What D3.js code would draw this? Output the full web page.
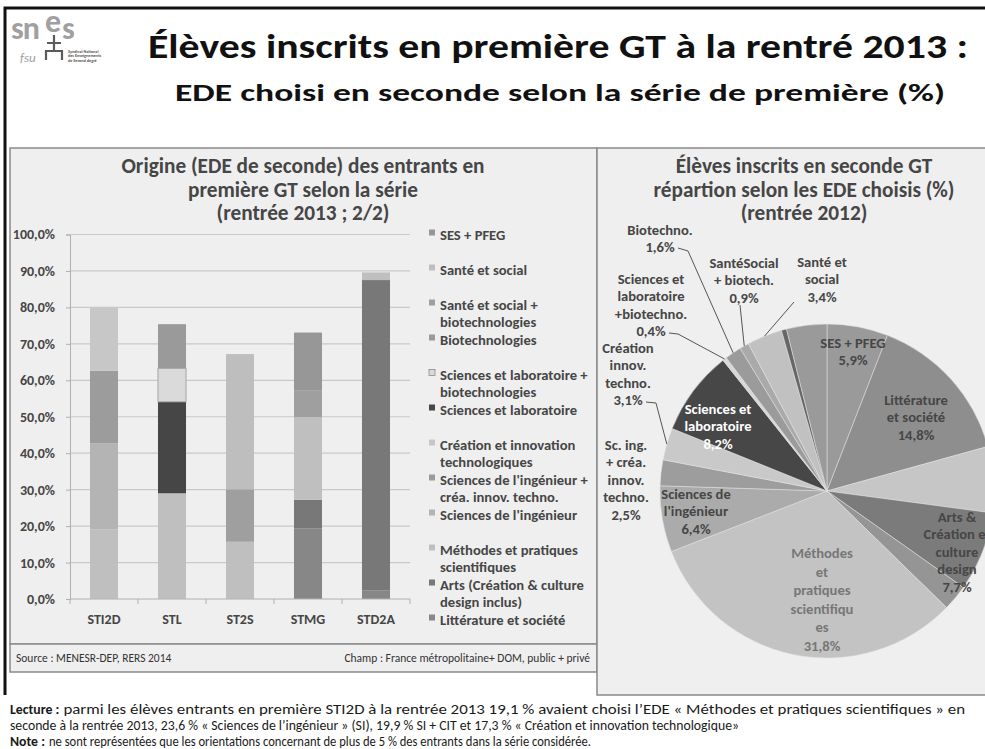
<!DOCTYPE html>
<html>
<head>
<meta charset="utf-8">
<script src="https://cdn.jsdelivr.net/npm/d3@7"></script>
<style>
  body { margin: 0; background: #fff; }
  svg text { font-family: Carlito, Lato, "Open Sans", sans-serif; }
</style>
</head>
<body>
<svg id="chart" width="985" height="749"></svg>
<script>
;(function (d3) {
  'use strict';

  // --- barres : origine des entrants en première GT (rentrée 2013)
  var categories = ["STI2D", "STL", "ST2S", "STMG", "STD2A"];
  var seriesNames = [
    "Littérature et société",
    "Arts (Création & culture design inclus)",
    "Méthodes et pratiques scientifiques",
    "Sciences de l'ingénieur",
    "Sciences de l'ingénieur + créa. innov. techno.",
    "Création et innovation technologiques",
    "Sciences et laboratoire",
    "Sciences et laboratoire + biotechnologies",
    "Biotechnologies",
    "Santé et social + biotechnologies",
    "Santé et social",
    "SES + PFEG"
  ];
  var litterature = [0, 0, 0, 19.4, 2.3];
  var arts        = [0, 0, 0, 7.8, 85.2];
  var methodes    = [19.1, 29.0, 15.7, 22.7, 2.1];
  var sciIng      = [23.6, 0, 0, 0, 0];
  var sciIngCit   = [19.9, 0, 0, 0, 0];
  var creaInnov   = [17.3, 0, 0, 0, 0];
  var sciLabo     = [0, 25.1, 0, 0, 0];
  var sciLaboBio  = [0, 9.2, 0, 0, 0];
  var biotechno   = [0, 12.1, 0, 0, 0];
  var santeBio    = [0, 0, 14.4, 7.4, 0];
  var santeSocial = [0, 0, 37.1, 0, 0];
  var sesPfeg     = [0, 0, 0, 15.8, 0];
  var seriesValues = [litterature, arts, methodes, sciIng, sciIngCit, creaInnov,
    sciLabo, sciLaboBio, biotechno, santeBio, santeSocial, sesPfeg];
  var legendLines = [
    ["Littérature et société"],
    ["Arts (Création & culture", "design inclus)"],
    ["Méthodes et pratiques", "scientifiques"],
    ["Sciences de l'ingénieur"],
    ["Sciences de l'ingénieur +", "créa. innov. techno."],
    ["Création et innovation", "technologiques"],
    ["Sciences et laboratoire"],
    ["Sciences et laboratoire +", "biotechnologies"],
    ["Biotechnologies"],
    ["Santé et social +", "biotechnologies"],
    ["Santé et social"],
    ["SES + PFEG"]
  ];
  var yTicks = [0, 10, 20, 30, 40, 50, 60, 70, 80, 90, 100];

  // --- camembert : élèves de seconde GT selon les EDE (rentrée 2012)
  var pieNames = ["SES + PFEG", "Littérature et société", "autre 1",
    "Arts & Création et culture design", "autre 2", "Méthodes et pratiques scientifiques",
    "Sciences de l'ingénieur", "Sc. ing. + créa. innov. techno.", "Création innov. techno.",
    "Sciences et laboratoire", "Sciences et laboratoire +biotechno.", "Biotechno.",
    "SantéSocial + biotech.", "Santé et social", "autre 3", "autre 4"];
  var pieValues = [5.9, 14.8, 6.4, 7.7, 2.5, 31.8, 6.4, 2.5, 3.1, 8.2, 0.4, 1.6, 0.9, 3.4, 0.5, 3.9];
  var pieLabelLines = [
    ["SES + PFEG"],
    ["Littérature", "et société"],
    null,
    ["Arts &", "Création et", "culture", "design"],
    null,
    ["Méthodes", "et", "pratiques", "scientifiqu", "es"],
    ["Sciences de", "l'ingénieur"],
    ["Sc. ing.", "+ créa.", "innov.", "techno."],
    ["Création", "innov.", "techno."],
    ["Sciences et", "laboratoire"],
    ["Sciences et", "laboratoire", "+biotechno."],
    ["Biotechno."],
    ["SantéSocial", "+ biotech."],
    ["Santé et", "social"],
    null,
    null
  ];

  // --- styles
  var seriesColors = ["#878787", "#787878", "#bfbfbf", "#b4b4b4", "#9c9c9c", "#c7c7c7",
    "#464646", "#dadada", "#9a9a9a", "#9f9f9f", "#bebebe", "#979797"];
  var pieColors = ["#9a9a9a", "#8e8e8e", "#c6c6c6", "#7b7b7b", "#959595", "#c3c3c3",
    "#ababab", "#9d9d9d", "#c9c9c9", "#474747", "#d8d8d8", "#9b9b9b",
    "#aaaaaa", "#c1c1c1", "#666666", "#9a9a9a"];
  var textDark = "#464646";
  var panelFill = "#efefef", panelStroke = "#8a8a8a";

  // positions des étiquettes du camembert (centre de la 1re ligne)
  var pieLabelPos = [
    {x: 853, y: 343},
    {x: 916, y: 400},
    null,
    {x: 957, y: 517},
    null,
    {x: 822, y: 553, lh: 18.6, fill: "#777"},
    {x: 696, y: 494},
    {x: 626, y: 445},
    {x: 628, y: 348, leader: [[646, 402], [656, 403]]},
    {x: 718, y: 409, fill: "#fff"},
    {x: 651, y: 279, leader: [[669, 333], [678, 334]]},
    {x: 660, y: 230, leader: [[678, 248], [688, 251]]},
    {x: 744, y: 263, leader: [[740, 305]]},
    {x: 822, y: 262, leader: [[794, 302]]},
    null,
    null
  ];

  var svg = d3.select("#chart");
  svg.append("rect").attr("width", 985).attr("height", 749).attr("fill", "#fff");

  function fmt(v) { return d3.format(".1f")(v).replace(".", ",") + "%"; }

  function fitWidth(sel, w) {
    sel.attr("textLength", w).attr("lengthAdjust", "spacingAndGlyphs");
  }

  // ---- cadre et panneaux
  svg.append("rect").attr("x", 10).attr("y", 148).attr("width", 587).attr("height", 496)
    .attr("fill", panelFill).attr("stroke", panelStroke).attr("stroke-width", 1.5);
  svg.append("rect").attr("x", 10).attr("y", 644).attr("width", 587).attr("height", 28)
    .attr("fill", panelFill).attr("stroke", panelStroke).attr("stroke-width", 1.5);
  svg.append("rect").attr("x", 597).attr("y", 148).attr("width", 400).attr("height", 547)
    .attr("fill", panelFill).attr("stroke", panelStroke).attr("stroke-width", 1.5);
  svg.append("path").attr("d", "M5,695V8H990")
    .attr("fill", "none").attr("stroke", "#111").attr("stroke-width", 3);

  // ---- logo
  var logo = svg.append("g").attr("class", "logo").attr("fill", "#a0a0a0")
    .attr("font-weight", 700);
  logo.append("text").attr("x", 11).attr("y", 39).attr("font-size", 32)
    .attr("letter-spacing", -1).text("sn");
  logo.append("text").attr("x", 45).attr("y", 32).attr("font-size", 32).text("e");
  logo.append("text").attr("x", 62).attr("y", 39).attr("font-size", 32).text("s");
  logo.append("text").attr("x", 20).attr("y", 62).attr("font-size", 13)
    .attr("font-weight", 400).attr("font-style", "italic").text("fsu");
  logo.append("path").attr("d", "M54,35V50M47,43H61M46,60V51H62V60")
    .attr("fill", "none").attr("stroke", "#5a5a5a").attr("stroke-width", 2.2);
  ["Syndicat National", "des Enseignements", "de Second degré"].forEach(function (t, i) {
    logo.append("text").attr("x", 68).attr("y", 53 + i * 4.4).attr("font-size", 4.2)
      .attr("fill", "#555").text(t);
  });

  // ---- titres
  svg.append("text").attr("x", 558).attr("y", 46).attr("text-anchor", "middle")
    .attr("dominant-baseline", "central").attr("font-size", 34).attr("font-weight", 700)
    .attr("fill", "#111").text("Élèves inscrits en première GT à la rentré 2013 :")
    .call(fitWidth, 820);
  svg.append("text").attr("x", 560).attr("y", 92).attr("text-anchor", "middle")
    .attr("dominant-baseline", "central").attr("font-size", 25).attr("font-weight", 700)
    .attr("fill", "#111").text("EDE choisi en seconde selon la série de première (%)")
    .call(fitWidth, 770);

  // ---- graphique en barres
  var bar = svg.append("g").attr("class", "bars");

  ["Origine (EDE de seconde) des entrants en", "première GT selon la série",
    "(rentrée 2013 ; 2/2)"].forEach(function (t, i) {
    bar.append("text").attr("x", 303).attr("y", 166 + i * 23.5).attr("text-anchor", "middle")
      .attr("dominant-baseline", "central").attr("font-size", 21.3).attr("font-weight", 700)
      .attr("fill", textDark).text(t);
  });

  var x = d3.scaleBand().domain(categories).range([70, 410])
    .paddingInner(0.588).paddingOuter(0.294);
  var y = d3.scaleLinear().domain([0, 100]).range([599, 234.5]);

  bar.append("g").selectAll("line").data(yTicks.slice(1)).enter().append("line")
    .attr("x1", 70).attr("x2", 410)
    .attr("y1", function (d) { return y(d); }).attr("y2", function (d) { return y(d); })
    .attr("stroke", "#c9c9c9").attr("stroke-width", 1.2);

  var yAxis = bar.append("g").attr("transform", "translate(70,0)")
    .call(d3.axisLeft(y).tickValues(yTicks).tickFormat(fmt).tickSize(4).tickPadding(11));
  yAxis.select(".domain").attr("stroke", "#b0b0b0");
  yAxis.selectAll(".tick line").attr("stroke", "#b0b0b0");
  yAxis.selectAll("text").attr("font-size", 14).attr("font-weight", 700)
    .attr("fill", textDark).attr("font-family", null);

  var rows = categories.map(function (c, i) {
    var r = {cat: c};
    seriesNames.forEach(function (s, k) { r[s] = seriesValues[k][i]; });
    return r;
  });
  var stacked = d3.stack().keys(seriesNames)(rows);

  bar.append("g").selectAll("g").data(stacked).enter().append("g")
    .attr("fill", function (d, i) { return seriesColors[i]; })
    .attr("stroke", function (d) { return d.key === "Sciences et laboratoire + biotechnologies" ? "#a5a5a5" : "none"; })
    .selectAll("rect")
    .data(function (d) { return d.filter(function (p) { return p[1] - p[0] > 0; }); })
    .enter().append("rect")
    .attr("x", function (d) { return x(d.data.cat); })
    .attr("width", x.bandwidth())
    .attr("y", function (d) { return y(d[1]); })
    .attr("height", function (d) { return y(d[0]) - y(d[1]); });

  // axe des catégories, graduations entre les barres
  var xAxis = bar.append("g").attr("class", "x-axis");
  xAxis.append("line").attr("x1", 70).attr("x2", 410).attr("y1", y(0)).attr("y2", y(0))
    .attr("stroke", "#b0b0b0");
  xAxis.selectAll(".edge").data(d3.range(categories.length + 1)).enter().append("line")
    .attr("class", "edge")
    .attr("x1", function (i) { return 70 + i * x.step(); })
    .attr("x2", function (i) { return 70 + i * x.step(); })
    .attr("y1", y(0)).attr("y2", y(0) + 5).attr("stroke", "#b0b0b0");
  xAxis.selectAll(".cat").data(categories).enter().append("text")
    .attr("class", "cat")
    .attr("x", function (d) { return x(d) + x.bandwidth() / 2; })
    .attr("y", 619).attr("text-anchor", "middle").attr("dominant-baseline", "central")
    .attr("font-size", 14).attr("font-weight", 700).attr("fill", textDark)
    .text(function (d) { return d; });

  // légende (ordre inverse de l'empilement)
  var legend = bar.append("g").attr("class", "legend");
  var order = d3.range(seriesNames.length).reverse();
  order.forEach(function (k, i) {
    var y0 = 234.5 + i * 35.0;
    legend.append("rect").attr("x", 429).attr("y", y0 - 5).attr("width", 6).attr("height", 6)
      .attr("fill", seriesColors[k])
      .attr("stroke", seriesNames[k] === "Sciences et laboratoire + biotechnologies" ? "#8a8a8a" : "none")
      .attr("stroke-width", 0.8);
    legendLines[k].forEach(function (t, j) {
      legend.append("text").attr("x", 440).attr("y", y0 + j * 17)
        .attr("dominant-baseline", "central").attr("font-size", 14.6).attr("font-weight", 700)
        .attr("fill", textDark).text(t);
    });
  });

  // source
  svg.append("text").attr("x", 16).attr("y", 658).attr("dominant-baseline", "central")
    .attr("font-size", 11.5).attr("fill", "#333").text("Source : MENESR-DEP, RERS 2014");
  svg.append("text").attr("x", 590).attr("y", 658).attr("text-anchor", "end")
    .attr("dominant-baseline", "central").attr("font-size", 11.5).attr("fill", "#333")
    .text("Champ : France métropolitaine+ DOM, public + privé");

  // ---- camembert
  var pieG = svg.append("g").attr("class", "pie");
  ["Élèves inscrits en seconde GT", "répartion selon les EDE choisis (%)",
    "(rentrée 2012)"].forEach(function (t, i) {
    pieG.append("text").attr("x", 804).attr("y", 166 + i * 23.5).attr("text-anchor", "middle")
      .attr("dominant-baseline", "central").attr("font-size", 21.3).attr("font-weight", 700)
      .attr("fill", textDark).text(t);
  });

  var cx = 827, cy = 491, r = 167;
  var pie = d3.pie().sort(null).value(function (d) { return d; });
  var arcs = pie(pieValues);
  var arc = d3.arc().innerRadius(0).outerRadius(r);
  var rim = d3.arc().innerRadius(r).outerRadius(r);

  var slices = pieG.append("g").attr("transform", "translate(" + cx + "," + cy + ")");
  slices.selectAll("path").data(arcs).enter().append("path")
    .attr("d", arc)
    .attr("fill", function (d, i) { return pieColors[i]; })
    .attr("stroke", "#e4e4e4").attr("stroke-width", 0.5);

  var labels = pieG.append("g").attr("class", "pie-labels");
  arcs.forEach(function (a, i) {
    var pos = pieLabelPos[i];
    if (!pos || !pieLabelLines[i]) return;
    var lh = pos.lh || 17.4;
    var txt = pieLabelLines[i].concat([fmt(pieValues[i])]);
    txt.forEach(function (t, j) {
      labels.append("text").attr("x", pos.x).attr("y", pos.y + j * lh)
        .attr("text-anchor", "middle").attr("dominant-baseline", "central")
        .attr("font-size", 14.6).attr("font-weight", 700)
        .attr("fill", pos.fill || textDark).text(t);
    });
    if (pos.leader) {
      var end = rim.centroid(a);
      var pts = pos.leader.concat([[cx + end[0], cy + end[1]]]);
      labels.append("path").attr("d", d3.line()(pts))
        .attr("fill", "none").attr("stroke", "#555").attr("stroke-width", 1);
    }
  });

  // ---- lecture / note
  var notes = [
    ["Lecture :", "parmi les élèves entrants en première STI2D à la rentrée 2013  19,1 % avaient choisi l’EDE « Méthodes et pratiques scientifiques » en", 968],
    ["", "seconde à la rentrée 2013, 23,6 %  « Sciences de l’ingénieur » (SI), 19,9 % SI + CIT et 17,3 % « Création et innovation technologique»", 742],
    ["Note :", "ne sont représentées que les orientations concernant de  plus de 5 % des entrants dans la série considérée.", 594]
  ];
  notes.forEach(function (n, i) {
    var yy = 714 + i * 16, x0 = 10;
    if (n[0]) {
      var lead = svg.append("text").attr("x", x0).attr("y", yy).attr("font-size", 13.8)
        .attr("font-weight", 700).attr("fill", "#1a1a1a").text(n[0]);
      x0 += lead.node().getComputedTextLength() + 4;
    }
    var t = svg.append("text").attr("x", x0).attr("y", yy)
      .attr("font-size", 13.8).attr("fill", "#1a1a1a").text(n[1]);
    fitWidth(t, n[2] - x0 - 3);
  });

})(window.d3);
</script>
</body>
</html>
